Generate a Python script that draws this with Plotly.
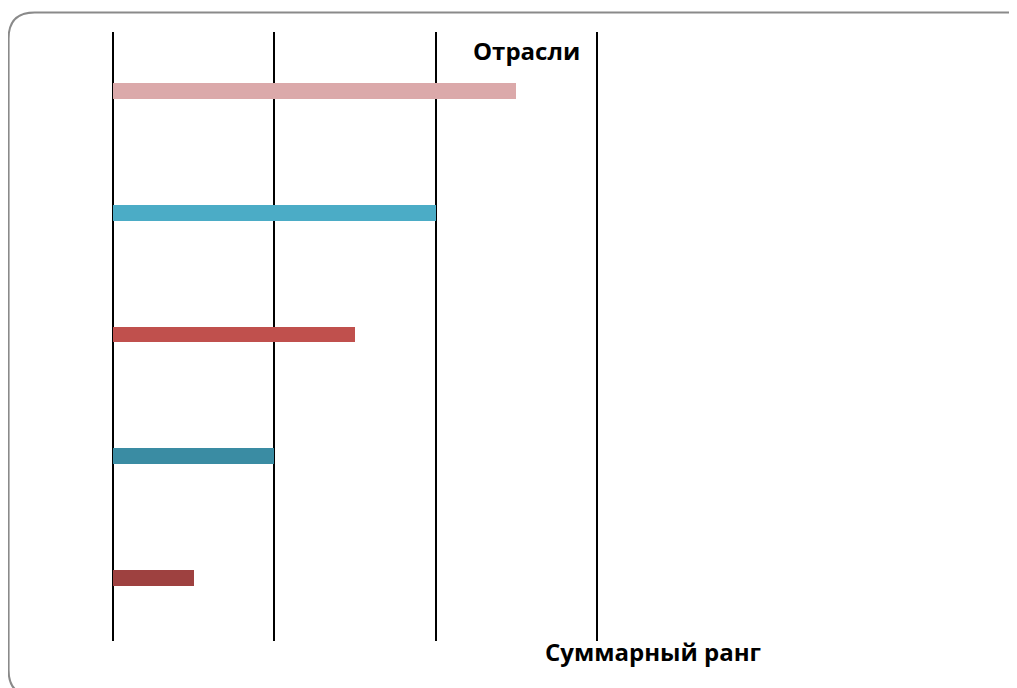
import plotly.graph_objects as go

categories = ["Отрасль 5", "Отрасль 4", "Отрасль 3", "Отрасль 2", "Отрасль 1"]
values = [1, 2, 3, 4, 5]
colors = ["#9E4140", "#3A8CA3", "#C0504D", "#4BACC6", "#DBA9AA"]

W, H = 1017, 688
OFF = 8  # page body margin
unit = 484 / 6.0
pad = 0.1
L = 113 - OFF - pad * unit
R_edge = 597 - OFF + pad * unit
T = 32 - OFF
Bot = 641 - OFF
pw = R_edge - L
ph = Bot - T
bar_w = 0.13
cat_px = ph / len(categories)

fig = go.Figure()
fig.add_trace(go.Bar(
    y=categories, x=values, orientation="h",
    marker=dict(color=colors, line=dict(width=0)),
    width=bar_w, offset=-bar_w / 2 + 2 / cat_px, hoverinfo="x+y",
))

def px2x(p):
    return (p - OFF - L) / pw

def py2y(p):
    return (Bot - (p - OFF)) / ph

x0, x1 = px2x(8.5), px2x(1036)
y0, y1 = py2y(12.5), py2y(696)
rx, ry = 26 / pw, 26 / ph
path = (f"M {x0+rx},{y0} L {x1-rx},{y0} Q {x1},{y0} {x1},{y0-ry} "
        f"L {x1},{y1+ry} Q {x1},{y1} {x1-rx},{y1} L {x0+rx},{y1} "
        f"Q {x0},{y1} {x0},{y1+ry} L {x0},{y0-ry} Q {x0},{y0} {x0+rx},{y0} Z")

fig.update_layout(
    width=W, height=H,
    margin=dict(l=L, r=W - R_edge, t=T, b=H - Bot, pad=0),
    paper_bgcolor="white", plot_bgcolor="white",
    showlegend=False,
    bargap=0,
    xaxis=dict(range=[-pad, 6 + pad], dtick=2, tick0=0, showgrid=True,
               gridcolor="black", gridwidth=2, zeroline=True,
               zerolinecolor="black", zerolinewidth=2,
               showticklabels=False, showline=False, ticks=""),
    yaxis=dict(showticklabels=False, showgrid=False, zeroline=False,
               showline=False, ticks=""),
    shapes=[dict(type="path", xref="paper", yref="paper", path=path,
                 line=dict(color="#8A8A8A", width=2), fillcolor="rgba(0,0,0,0)",
                 layer="below")],
    annotations=[
        dict(text="<b>Отрасли</b>", xref="paper", yref="paper",
             x=px2x(527), y=py2y(51), xanchor="center", yanchor="middle",
             showarrow=False,
             font=dict(family="Open Sans", size=24, color="black")),
        dict(text="<b>Суммарный ранг</b>", xref="paper", yref="paper",
             x=px2x(653), y=py2y(651), xanchor="center", yanchor="middle",
             showarrow=False,
             font=dict(family="Open Sans", size=24, color="black")),
    ],
)

fig.write_html("out.html")
